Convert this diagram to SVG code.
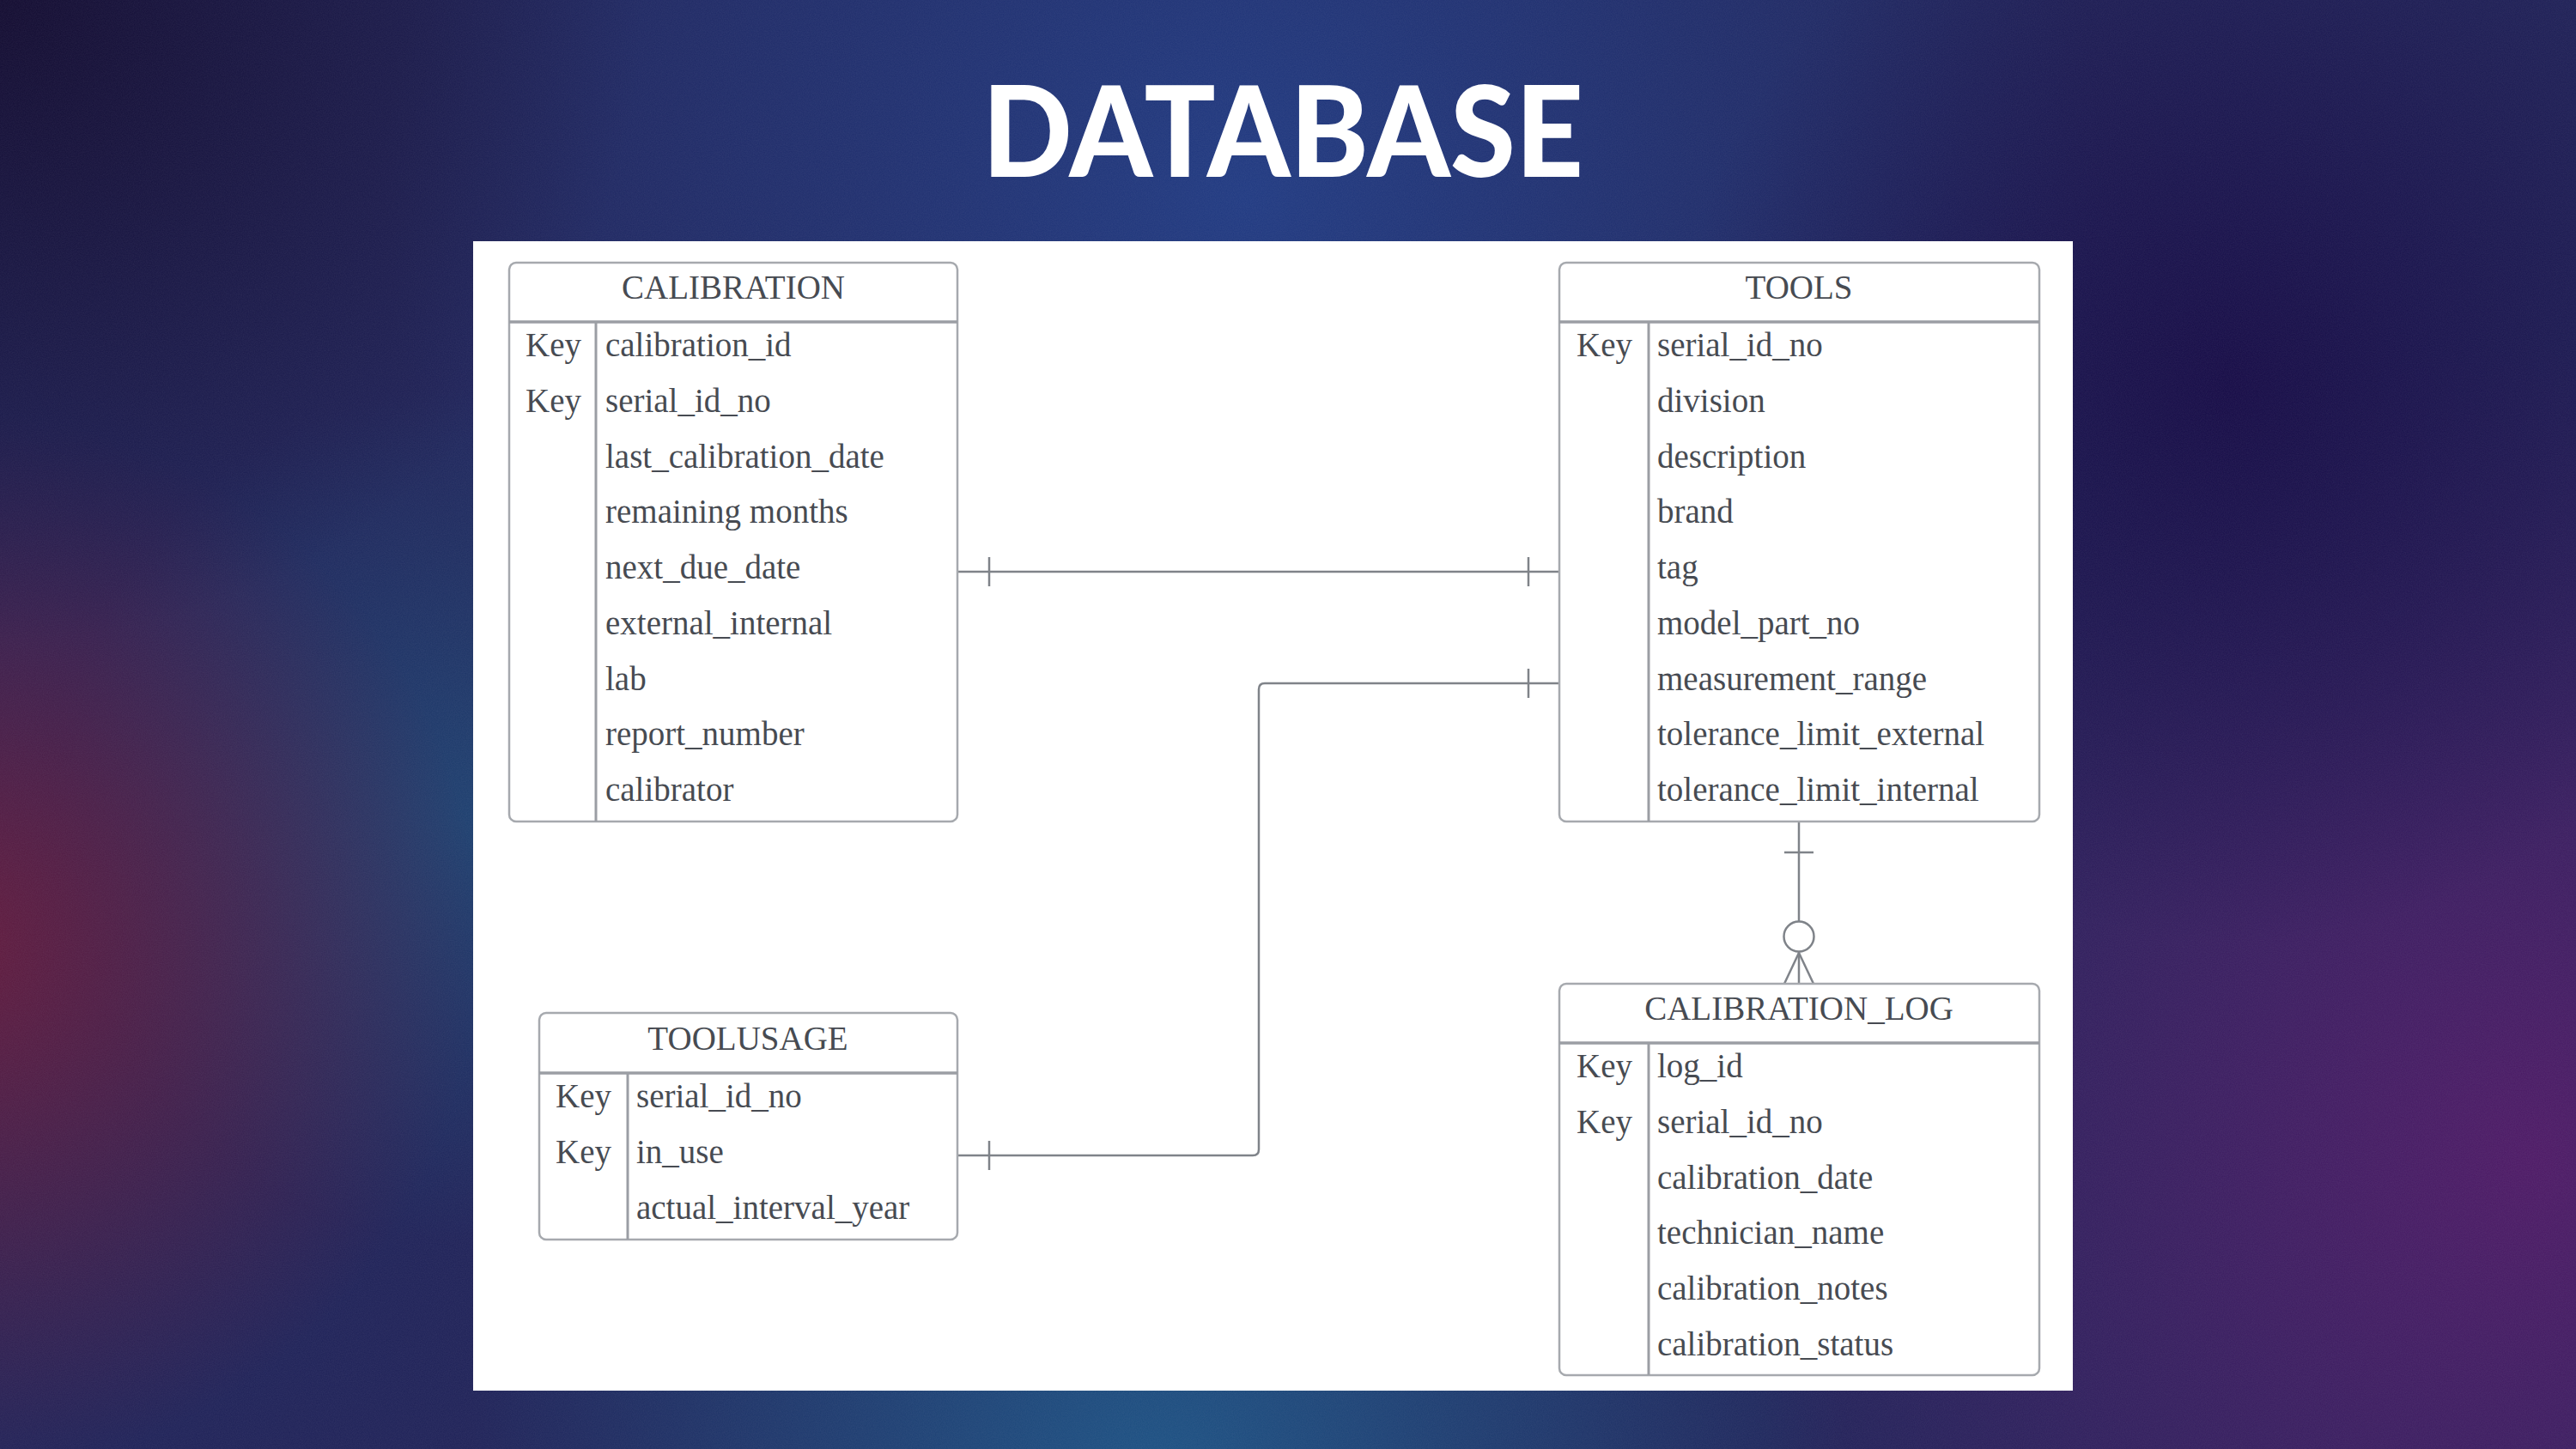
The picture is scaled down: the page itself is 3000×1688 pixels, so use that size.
<svg xmlns="http://www.w3.org/2000/svg" width="3000" height="1688" viewBox="0 0 3000 1688">
  <defs>
    <radialGradient id="gBlueTop" cx="1450" cy="230" r="1000" gradientUnits="userSpaceOnUse">
      <stop offset="0" stop-color="#203a82" stop-opacity="1"/>
      <stop offset="0.6" stop-color="#1f3274" stop-opacity="0.6"/>
      <stop offset="1" stop-color="#1f3274" stop-opacity="0"/>
    </radialGradient>
    <radialGradient id="gBlueBottom" cx="1350" cy="1720" r="800" gradientUnits="userSpaceOnUse">
      <stop offset="0" stop-color="#1c5284" stop-opacity="1"/>
      <stop offset="1" stop-color="#1c5284" stop-opacity="0"/>
    </radialGradient>
    <radialGradient id="gBlueLeft" cx="560" cy="950" r="500" gradientUnits="userSpaceOnUse">
      <stop offset="0" stop-color="#1d4372" stop-opacity="0.9"/>
      <stop offset="1" stop-color="#1d4372" stop-opacity="0"/>
    </radialGradient>
    <radialGradient id="gRedLeft" cx="-60" cy="1100" r="620" gradientUnits="userSpaceOnUse">
      <stop offset="0" stop-color="#641a3c" stop-opacity="1"/>
      <stop offset="1" stop-color="#641a3c" stop-opacity="0"/>
    </radialGradient>
    <radialGradient id="gPurpleRight" cx="2950" cy="1350" r="950" gradientUnits="userSpaceOnUse">
      <stop offset="0" stop-color="#4e1a66" stop-opacity="1"/>
      <stop offset="1" stop-color="#4e1a66" stop-opacity="0"/>
    </radialGradient>
    <radialGradient id="gDarkTL" cx="0" cy="0" r="750" gradientUnits="userSpaceOnUse">
      <stop offset="0" stop-color="#120b30" stop-opacity="1"/>
      <stop offset="1" stop-color="#120b30" stop-opacity="0"/>
    </radialGradient>
    <radialGradient id="gDarkTR" cx="2600" cy="450" r="650" gradientUnits="userSpaceOnUse">
      <stop offset="0" stop-color="#160b46" stop-opacity="1"/>
      <stop offset="1" stop-color="#160b46" stop-opacity="0"/>
    </radialGradient>
    <filter id="grain" x="0" y="0" width="100%" height="100%">
      <feTurbulence type="fractalNoise" baseFrequency="0.85" numOctaves="2" seed="3" result="n"/>
      <feColorMatrix type="matrix" values="0 0 0 0 0.6  0 0 0 0 0.6  0 0 0 0 0.7  0 0 0 0.09 0"/>
    </filter>
    <style>
      .box { fill: #ffffff; stroke: #a6a9ae; stroke-width: 2.5; }
      .sep { stroke: #9b9ea4; stroke-width: 3.5; fill: none; }
      .kdiv { stroke: #9b9ea4; stroke-width: 3; fill: none; }
      .hdr { font-family: "Liberation Serif", "Times New Roman", serif; font-size: 39px; fill: #474b52; text-anchor: middle; }
      .fld { font-family: "Liberation Serif", "Times New Roman", serif; font-size: 39px; fill: #474b52; }
      .conn { stroke: #7f8389; stroke-width: 2.5; fill: none; }
      .tick { stroke: #7f8389; stroke-width: 2.5; fill: none; }
      .title { font-family: "Lato", "Open Sans", "Liberation Sans", sans-serif; font-weight: 900; font-size: 146px; fill: #ffffff; text-anchor: middle; }
    </style>
  </defs>

  <!-- background -->
  <rect x="0" y="0" width="3000" height="1688" fill="#1f2258"/>
  <rect x="0" y="0" width="3000" height="1688" fill="url(#gBlueTop)"/>
  <rect x="0" y="0" width="3000" height="1688" fill="url(#gBlueBottom)"/>
  <rect x="0" y="0" width="3000" height="1688" fill="url(#gBlueLeft)"/>
  <rect x="0" y="0" width="3000" height="1688" fill="url(#gPurpleRight)"/>
  <rect x="0" y="0" width="3000" height="1688" fill="url(#gRedLeft)"/>
  <rect x="0" y="0" width="3000" height="1688" fill="url(#gDarkTL)"/>
  <rect x="0" y="0" width="3000" height="1688" fill="url(#gDarkTR)"/>
  <rect x="0" y="0" width="3000" height="1688" filter="url(#grain)"/>

  <!-- title -->
  <text class="title" x="1494" y="206" textLength="700" lengthAdjust="spacingAndGlyphs">DATABASE</text>

  <!-- panel -->
  <rect x="551" y="281" width="1863" height="1339" fill="#ffffff"/>

  <!-- connectors -->
  <g id="connectors">
    <g id="conn-calibration-tools">
      <line class="conn" x1="1115" y1="666" x2="1816" y2="666"/>
      <line class="tick" x1="1152" y1="649" x2="1152" y2="683"/>
      <line class="tick" x1="1780" y1="649" x2="1780" y2="683"/>
    </g>
    <g id="conn-toolusage-tools">
      <path class="conn" d="M1816,796 H1473 Q1466,796 1466,803 V1339 Q1466,1346 1459,1346 H1115"/>
      <line class="tick" x1="1780" y1="779" x2="1780" y2="813"/>
      <line class="tick" x1="1152" y1="1329" x2="1152" y2="1363"/>
    </g>
    <g id="conn-tools-log">
      <line class="conn" x1="2095" y1="957" x2="2095" y2="1073"/>
      <line class="tick" x1="2078" y1="993" x2="2112" y2="993"/>
      <circle class="conn" cx="2095" cy="1091" r="17.5" fill="#ffffff"/>
      <line class="conn" x1="2095" y1="1109" x2="2095" y2="1146"/>
      <line class="conn" x1="2095" y1="1110" x2="2078" y2="1146"/>
      <line class="conn" x1="2095" y1="1110" x2="2112" y2="1146"/>
    </g>
  </g>

  <!-- CALIBRATION -->
  <g id="calibration">
    <rect class="box" x="593" y="306" width="522" height="651" rx="8"/>
    <line class="sep" x1="593" y1="375" x2="1115" y2="375"/>
    <line class="kdiv" x1="694" y1="375" x2="694" y2="957"/>
    <text class="hdr" x="854" y="348">CALIBRATION</text>
    <text class="fld" x="612" y="415">Key</text>
    <text class="fld" x="612" y="480">Key</text>
    <text class="fld" x="705" y="415">calibration_id</text>
    <text class="fld" x="705" y="480">serial_id_no</text>
    <text class="fld" x="705" y="545">last_calibration_date</text>
    <text class="fld" x="705" y="609">remaining months</text>
    <text class="fld" x="705" y="674">next_due_date</text>
    <text class="fld" x="705" y="739">external_internal</text>
    <text class="fld" x="705" y="804">lab</text>
    <text class="fld" x="705" y="868">report_number</text>
    <text class="fld" x="705" y="933">calibrator</text>
  </g>

  <!-- TOOLS -->
  <g id="tools">
    <rect class="box" x="1816" y="306" width="559" height="651" rx="8"/>
    <line class="sep" x1="1816" y1="375" x2="2375" y2="375"/>
    <line class="kdiv" x1="1920" y1="375" x2="1920" y2="957"/>
    <text class="hdr" x="2095" y="348">TOOLS</text>
    <text class="fld" x="1836" y="415">Key</text>
    <text class="fld" x="1930" y="415">serial_id_no</text>
    <text class="fld" x="1930" y="480">division</text>
    <text class="fld" x="1930" y="545">description</text>
    <text class="fld" x="1930" y="609">brand</text>
    <text class="fld" x="1930" y="674">tag</text>
    <text class="fld" x="1930" y="739">model_part_no</text>
    <text class="fld" x="1930" y="804">measurement_range</text>
    <text class="fld" x="1930" y="868">tolerance_limit_external</text>
    <text class="fld" x="1930" y="933">tolerance_limit_internal</text>
  </g>

  <!-- TOOLUSAGE -->
  <g id="toolusage">
    <rect class="box" x="628" y="1180" width="487" height="264" rx="8"/>
    <line class="sep" x1="628" y1="1250" x2="1115" y2="1250"/>
    <line class="kdiv" x1="731" y1="1250" x2="731" y2="1444"/>
    <text class="hdr" x="871" y="1223">TOOLUSAGE</text>
    <text class="fld" x="647" y="1290">Key</text>
    <text class="fld" x="647" y="1355">Key</text>
    <text class="fld" x="741" y="1290">serial_id_no</text>
    <text class="fld" x="741" y="1355">in_use</text>
    <text class="fld" x="741" y="1420">actual_interval_year</text>
  </g>

  <!-- CALIBRATION_LOG -->
  <g id="calibration_log">
    <rect class="box" x="1816" y="1146" width="559" height="456" rx="8"/>
    <line class="sep" x1="1816" y1="1215" x2="2375" y2="1215"/>
    <line class="kdiv" x1="1920" y1="1215" x2="1920" y2="1602"/>
    <text class="hdr" x="2095" y="1188">CALIBRATION_LOG</text>
    <text class="fld" x="1836" y="1255">Key</text>
    <text class="fld" x="1836" y="1320">Key</text>
    <text class="fld" x="1930" y="1255">log_id</text>
    <text class="fld" x="1930" y="1320">serial_id_no</text>
    <text class="fld" x="1930" y="1385">calibration_date</text>
    <text class="fld" x="1930" y="1449">technician_name</text>
    <text class="fld" x="1930" y="1514">calibration_notes</text>
    <text class="fld" x="1930" y="1579">calibration_status</text>
  </g>
</svg>
